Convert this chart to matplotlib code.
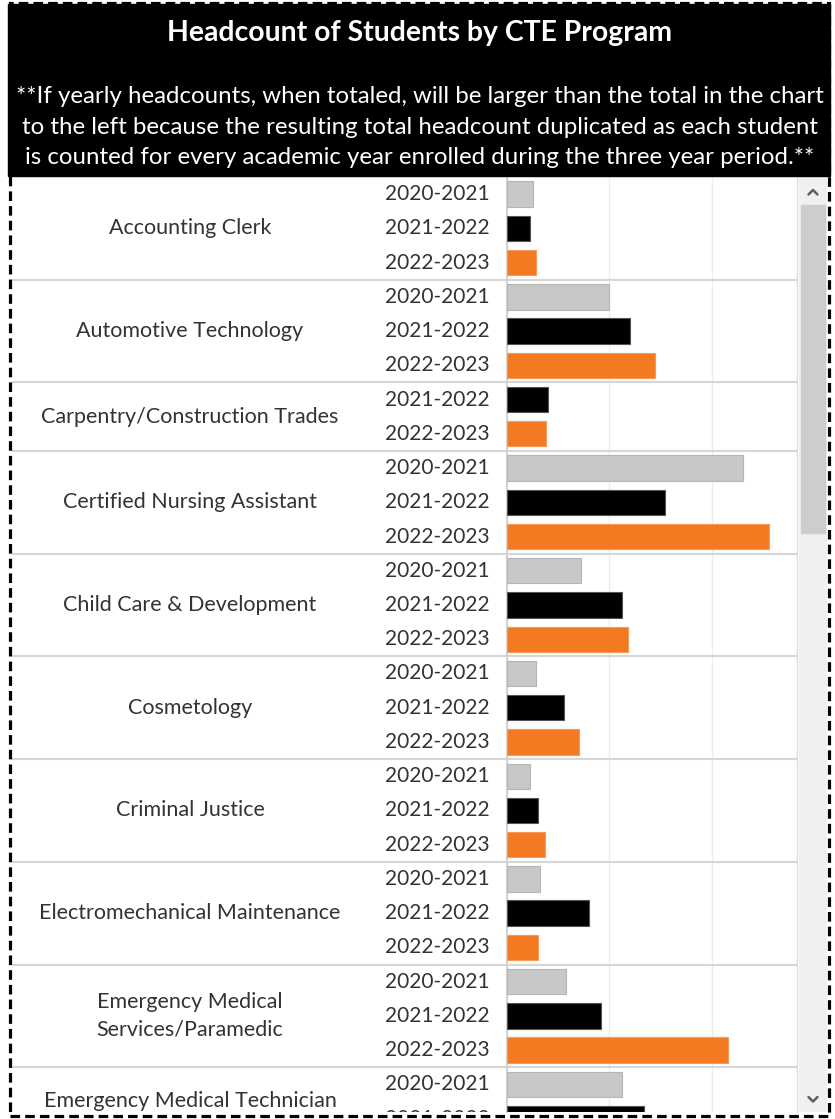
import matplotlib
matplotlib.use("Agg")
import matplotlib.pyplot as plt
from matplotlib.patches import Rectangle

plt.rcParams['font.family'] = ['Lato', 'DejaVu Sans']

# ---------------- data ----------------
title = "Headcount of Students by CTE Program"
note = ("**If yearly headcounts, when totaled, will be larger than the total in the chart\n"
        "to the left because the resulting total headcount duplicated as each student\n"
        "is counted for every academic year enrolled during the three year period.**")

programs = ["Accounting Clerk", "Automotive Technology", "Carpentry/Construction Trades",
            "Certified Nursing Assistant", "Child Care & Development", "Cosmetology",
            "Criminal Justice", "Electromechanical Maintenance",
            "Emergency Medical\nServices/Paramedic", "Emergency Medical Technician"]
program_years = [
    ["2020-2021", "2021-2022", "2022-2023"],
    ["2020-2021", "2021-2022", "2022-2023"],
    ["2021-2022", "2022-2023"],
    ["2020-2021", "2021-2022", "2022-2023"],
    ["2020-2021", "2021-2022", "2022-2023"],
    ["2020-2021", "2021-2022", "2022-2023"],
    ["2020-2021", "2021-2022", "2022-2023"],
    ["2020-2021", "2021-2022", "2022-2023"],
    ["2020-2021", "2021-2022", "2022-2023"],
    ["2020-2021", "2021-2022"],
]
headcounts = [
    [12.5, 11, 14.3],
    [50, 60, 72],
    [20, 19],
    [115, 77, 128],
    [36, 56, 59],
    [14, 28, 35],
    [11, 15, 18.5],
    [16, 40, 15],
    [29, 46, 108],
    [56, 67],
]
year_colors = {"2020-2021": "#c8c8c8", "2021-2022": "#000000", "2022-2023": "#f47a22"}
year_edges = {"2020-2021": "#b5b5b5", "2021-2022": "#555555", "2022-2023": "#f59a5c"}
grid_ticks = [0, 50, 100]

# ---------------- layout ----------------
W, H = 835, 1119
fig = plt.figure(figsize=(W / 100, H / 100), dpi=100)

def fx(x):
    return x / W

def fy(y):
    return 1 - y / H

pane_top, pane_bot = 177, 1112
row_px = 34.24
y_top = -0.5
y_bot = y_top + (pane_bot - pane_top) / row_px

# label pane
axl = fig.add_axes([fx(12), fy(pane_bot), fx(507 - 12), (pane_bot - pane_top) / H])
axl.set_xlim(12, 507)
axl.set_ylim(y_bot, y_top)
axl.axis('off')

# bar pane
axb = fig.add_axes([fx(507), fy(pane_bot), fx(797 - 507), (pane_bot - pane_top) / H])
axb.set_xlim(0, 290 / 2.05)
axb.set_ylim(y_bot, y_top)
for s in ['top', 'bottom']:
    axb.spines[s].set_visible(False)
axb.spines['left'].set_color('#cfcfcf')
axb.spines['left'].set_linewidth(1.3)
axb.spines['right'].set_color('#dcdcdc')
axb.spines['right'].set_linewidth(1.0)
axb.set_xticks(grid_ticks)
axb.set_yticks([])
axb.tick_params(axis='x', length=0, labelbottom=False)
axb.grid(axis='x', color='#ededed', linewidth=1.0)
axb.set_axisbelow(True)

text_color = '#333333'
row = 0
for prog, yrs, vals in zip(programs, program_years, headcounts):
    start = row
    for yr, v in zip(yrs, vals):
        axb.barh(row, v, height=0.74, color=year_colors[yr], edgecolor=year_edges[yr],
                 linewidth=0.8, zorder=3)
        axl.text(490, row, yr, ha='right', va='center', fontsize=15, color=text_color,
                 clip_on=True)
        row += 1
    center = (start + row - 1) / 2
    axl.text(190, center, prog, ha='center', va='center', fontsize=15.5, color=text_color,
             linespacing=1.5, clip_on=True)
    # separator
    sep = row - 0.5
    for ax in (axl, axb):
        ax.axhline(sep, color='#d6d6d6', linewidth=1.5, zorder=4)

# scrollbar
axs = fig.add_axes([fx(799), fy(pane_bot), fx(827 - 799), (pane_bot - pane_top) / H])
axs.set_xlim(799, 827)
axs.set_ylim(pane_bot, pane_top)
axs.axis('off')
axs.add_patch(Rectangle((799, pane_top), 28, pane_bot - pane_top, color='#f0f0f0'))
axs.add_patch(Rectangle((800.5, 205), 24.5, 328, color='#cdcdcd'))
axs.plot([808.5, 813, 817.5], [194.5, 190, 194.5], color='#606060', lw=1.8,
         solid_capstyle='round')
axs.plot([808.5, 813, 817.5], [1097, 1101.5, 1097], color='#606060', lw=1.8,
         solid_capstyle='round')

# header
fig.patches.append(Rectangle((fx(8), fy(176)), fx(830 - 8), (176 - 4) / H,
                             transform=fig.transFigure, color='black', zorder=0))
fig.text(fx(420), fy(33), title, ha='center', va='center', color='white',
         fontsize=20.4, fontweight='bold')
fig.text(fx(420), fy(127), note, ha='center', va='center', color='white',
         fontsize=17.3, linespacing=1.58)

# dashed outer border
fig.patches.append(Rectangle((fx(10), fy(1116)), fx(829 - 10), (1116 - 3) / H,
                             transform=fig.transFigure, fill=False, edgecolor='black',
                             linewidth=2.3, linestyle=(0, (3, 1.6)), zorder=10))

fig.savefig("out.png", dpi=100)
